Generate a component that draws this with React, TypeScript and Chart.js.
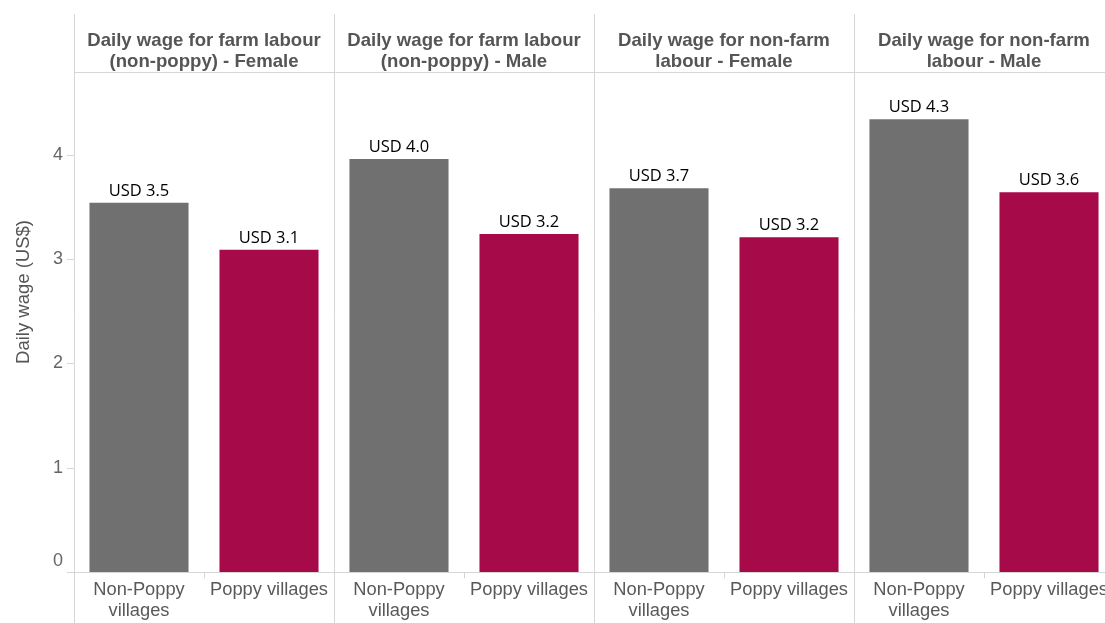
import React, { useEffect, useRef } from "react";
import { Chart, registerables } from "chart.js";

Chart.register(...registerables);

const panelTitles: string[][] = [
  ["Daily wage for farm labour", "(non-poppy) - Female"],
  ["Daily wage for farm labour", "(non-poppy) - Male"],
  ["Daily wage for non-farm", "labour - Female"],
  ["Daily wage for non-farm", "labour - Male"],
];
const groupLabels: string[][] = [["Non-Poppy", "villages"], ["Poppy villages"]];
const nonPoppyValues = [3.54, 3.96, 3.68, 4.34];
const poppyValues = [3.09, 3.24, 3.21, 3.64];
const valueLabels = ["USD 3.5", "USD 3.1", "USD 4.0", "USD 3.2", "USD 3.7", "USD 3.2", "USD 4.3", "USD 3.6"];
const yTicks = [0, 1, 2, 3, 4];
const yTitle = "Daily wage (US$)";

const GRAY = "#707070";
const CRIMSON = "#a60a49";
const LINE = "#d6d6d6";

export default function App() {
  const ref = useRef<HTMLCanvasElement | null>(null);

  useEffect(() => {
    if (!ref.current) return;
    const categories: string[] = [];
    const values: number[] = [];
    const colors: string[] = [];
    for (let i = 0; i < panelTitles.length; i++) {
      categories.push(`p${i}-np`, `p${i}-p`);
      values.push(nonPoppyValues[i], poppyValues[i]);
      colors.push(GRAY, CRIMSON);
    }

    const facetPlugin = {
      id: "facet",
      afterDraw(chart: any) {
        const ctx = chart.ctx as CanvasRenderingContext2D;
        const area = chart.chartArea;
        const xs = chart.scales.x;
        const ys = chart.scales.y;
        const W = chart.width;
        const H = chart.height;
        const half = (xs.getPixelForValue(1) - xs.getPixelForValue(0)) / 2;
        ctx.save();
        ctx.strokeStyle = LINE;
        ctx.lineWidth = 1;
        for (let i = 0; i < panelTitles.length; i++) {
          const x = Math.round(xs.getPixelForValue(2 * i) - half) + 0.5;
          ctx.beginPath();
          ctx.moveTo(x, 14);
          ctx.lineTo(x, H);
          ctx.stroke();
        }
        ctx.beginPath();
        ctx.moveTo(area.left, Math.round(area.top) + 0.5);
        ctx.lineTo(W, Math.round(area.top) + 0.5);
        ctx.stroke();
        const y0 = Math.round(ys.getPixelForValue(0)) + 0.5;
        ctx.beginPath();
        ctx.moveTo(67, y0);
        ctx.lineTo(W, y0);
        ctx.stroke();
        for (let i = 0; i < panelTitles.length; i++) {
          const x = Math.round(xs.getPixelForValue(2 * i) + half) + 0.5;
          ctx.beginPath();
          ctx.moveTo(x, y0);
          ctx.lineTo(x, y0 + 6);
          ctx.stroke();
        }
        ctx.fillStyle = "#666666";
        ctx.font = "18px Arial, 'Liberation Sans', sans-serif";
        ctx.textAlign = "right";
        ctx.textBaseline = "middle";
        yTicks.forEach((t) => {
          const y = Math.round(ys.getPixelForValue(t)) + 0.5;
          ctx.beginPath();
          ctx.moveTo(67, y);
          ctx.lineTo(area.left, y);
          ctx.stroke();
          ctx.fillText(String(t), 63, t === 0 ? y - 11 : y);
        });
        ctx.save();
        ctx.translate(24, 292);
        ctx.rotate(-Math.PI / 2);
        ctx.textAlign = "center";
        ctx.textBaseline = "middle";
        ctx.font = "18.5px Arial, 'Liberation Sans', sans-serif";
        ctx.fillStyle = "#555555";
        ctx.fillText(yTitle, 0, 0);
        ctx.restore();
        ctx.fillStyle = "#555555";
        ctx.font = "bold 18.6px Arial, 'Liberation Sans', sans-serif";
        ctx.textAlign = "center";
        ctx.textBaseline = "alphabetic";
        panelTitles.forEach((lines, i) => {
          const cx = xs.getPixelForValue(2 * i) + half;
          lines.forEach((ln, j) => ctx.fillText(ln, cx, 46 + j * 21));
        });
        ctx.fillStyle = "#595959";
        ctx.font = "18.3px Arial, 'Liberation Sans', sans-serif";
        for (let k = 0; k < categories.length; k++) {
          const cx = xs.getPixelForValue(k);
          const lines = groupLabels[k % 2];
          lines.forEach((ln, j) => ctx.fillText(ln, cx, 595 + j * 21));
        }
        ctx.fillStyle = "#000000";
        ctx.font = "16.5px 'Open Sans', sans-serif";
        const meta = chart.getDatasetMeta(0);
        meta.data.forEach((bar: any, k: number) => {
          ctx.fillText(valueLabels[k], bar.x, bar.y - 7);
        });
        ctx.restore();
      },
    };

    const chart = new Chart(ref.current, {
      type: "bar",
      data: {
        labels: categories,
        datasets: [
          {
            data: values,
            backgroundColor: colors,
            borderWidth: 0,
            barPercentage: 0.762,
            categoryPercentage: 1,
          },
        ],
      },
      options: {
        responsive: false,
        animation: false,
        devicePixelRatio: 1,
        layout: { padding: { left: 74, right: 6, top: 72, bottom: 51 } },
        plugins: { legend: { display: false }, tooltip: { enabled: false } },
        scales: {
          x: { display: false },
          y: { display: false, min: 0, max: 4.794 },
        },
      },
      plugins: [facetPlugin],
    });
    return () => chart.destroy();
  }, []);

  return (
    <div style={{ position: "absolute", left: 0, top: 0, width: 1105, height: 623, overflow: "hidden", background: "#fff" }}>
      <canvas ref={ref} width={1120} height={623} style={{ display: "block" }} />
    </div>
  );
}
